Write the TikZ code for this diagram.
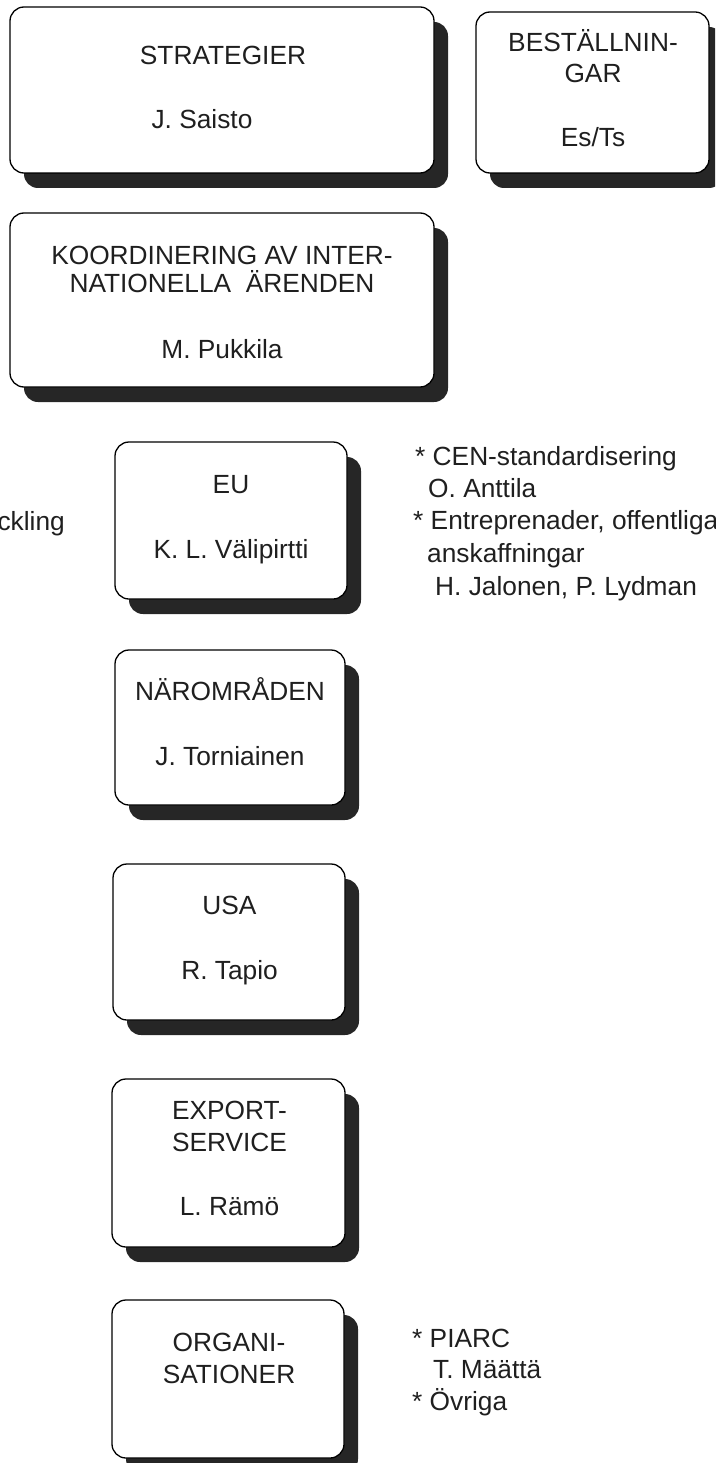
\documentclass[tikz,border=0pt]{standalone}
\usepackage{fontspec}
\setmainfont{Liberation Sans}
\usetikzlibrary{shadows}
\begin{document}
\begin{tikzpicture}[x=1pt,y=-1pt,
  box/.style={draw=black, line width=1.3pt, fill=white, rounded corners=14pt, inner sep=0pt,
    drop shadow={shadow xshift=14pt, shadow yshift=-15pt, fill=black!85, opacity=1}},
  lbl/.style={anchor=base, inner sep=0pt, text=black!88, font=\fontsize{26.3}{32}\selectfont},
  side/.style={anchor=base west, inner sep=0pt, text=black!88, font=\fontsize{26.3}{32}\selectfont}]
\useasboundingbox (0,0) rectangle (715,1463);
\clip (0,0) rectangle (715,1463);

% boxes
\node[box, minimum width=424pt, minimum height=166pt] (strat) at (222,90) {};
\node[box, minimum width=233pt, minimum height=161pt] (best) at (592.5,92.5) {};
\node[box, minimum width=424pt, minimum height=174pt] (koord) at (222,300) {};
\node[box, minimum width=232pt, minimum height=157pt] (eu) at (231,520.5) {};
\node[box, minimum width=230pt, minimum height=155pt] (naer) at (230,727.5) {};
\node[box, minimum width=232pt, minimum height=156pt] (usa) at (229,942) {};
\node[box, minimum width=233pt, minimum height=168pt] (exp) at (228.5,1163) {};
\node[box, minimum width=232pt, minimum height=158pt] (org) at (228,1379) {};

% box texts
\node[lbl] (t1a) at (223,65) {STRATEGIER};
\node[lbl] (t1b) at (202,129) {J. Saisto};
\node[lbl] (t2a) at (593,52) {BESTÄLLNIN-};
\node[lbl] (t2b) at (593,83) {GAR};
\node[lbl] (t2c) at (593,147) {Es/Ts};
\node[lbl] (t3a) at (222,265) {KOORDINERING AV INTER-};
\node[lbl] (t3b) at (222,292) {NATIONELLA\ \ ÄRENDEN};
\node[lbl] (t3c) at (222,358) {M. Pukkila};
\node[lbl] (t4a) at (231,493) {EU};
\node[lbl] (t4b) at (231,558) {K. L. Välipirtti};
\node[lbl] (t5a) at (230,700) {NÄROMRÅDEN};
\node[lbl] (t5b) at (230,765) {J. Torniainen};
\node[lbl] (t6a) at (229.5,914) {USA};
\node[lbl] (t6b) at (229.5,979) {R. Tapio};
\node[lbl] (t7a) at (229.5,1119) {EXPORT-};
\node[lbl] (t7b) at (229.5,1151) {SERVICE};
\node[lbl] (t7c) at (229.5,1215) {L. Rämö};
\node[lbl] (t8a) at (229,1351) {ORGANI-};
\node[lbl] (t8b) at (229,1383) {SATIONER};

% side texts
\node[lbl, anchor=base east] (ck) at (65,530) {ckling};
\node[side] (s1) at (415,465) {* CEN-standardisering};
\node[side] (s2) at (428,497) {O. Anttila};
\node[side] (s3) at (413,529) {* Entreprenader, offentliga};
\node[side] (s4) at (427,562) {anskaffningar};
\node[side] (s5) at (435,595) {H. Jalonen, P. Lydman};
\node[side] (p1) at (412,1347) {* PIARC};
\node[side] (p2) at (433,1378) {T. Määttä};
\node[side] (p3) at (412,1410) {* Övriga};
\end{tikzpicture}
\end{document}
